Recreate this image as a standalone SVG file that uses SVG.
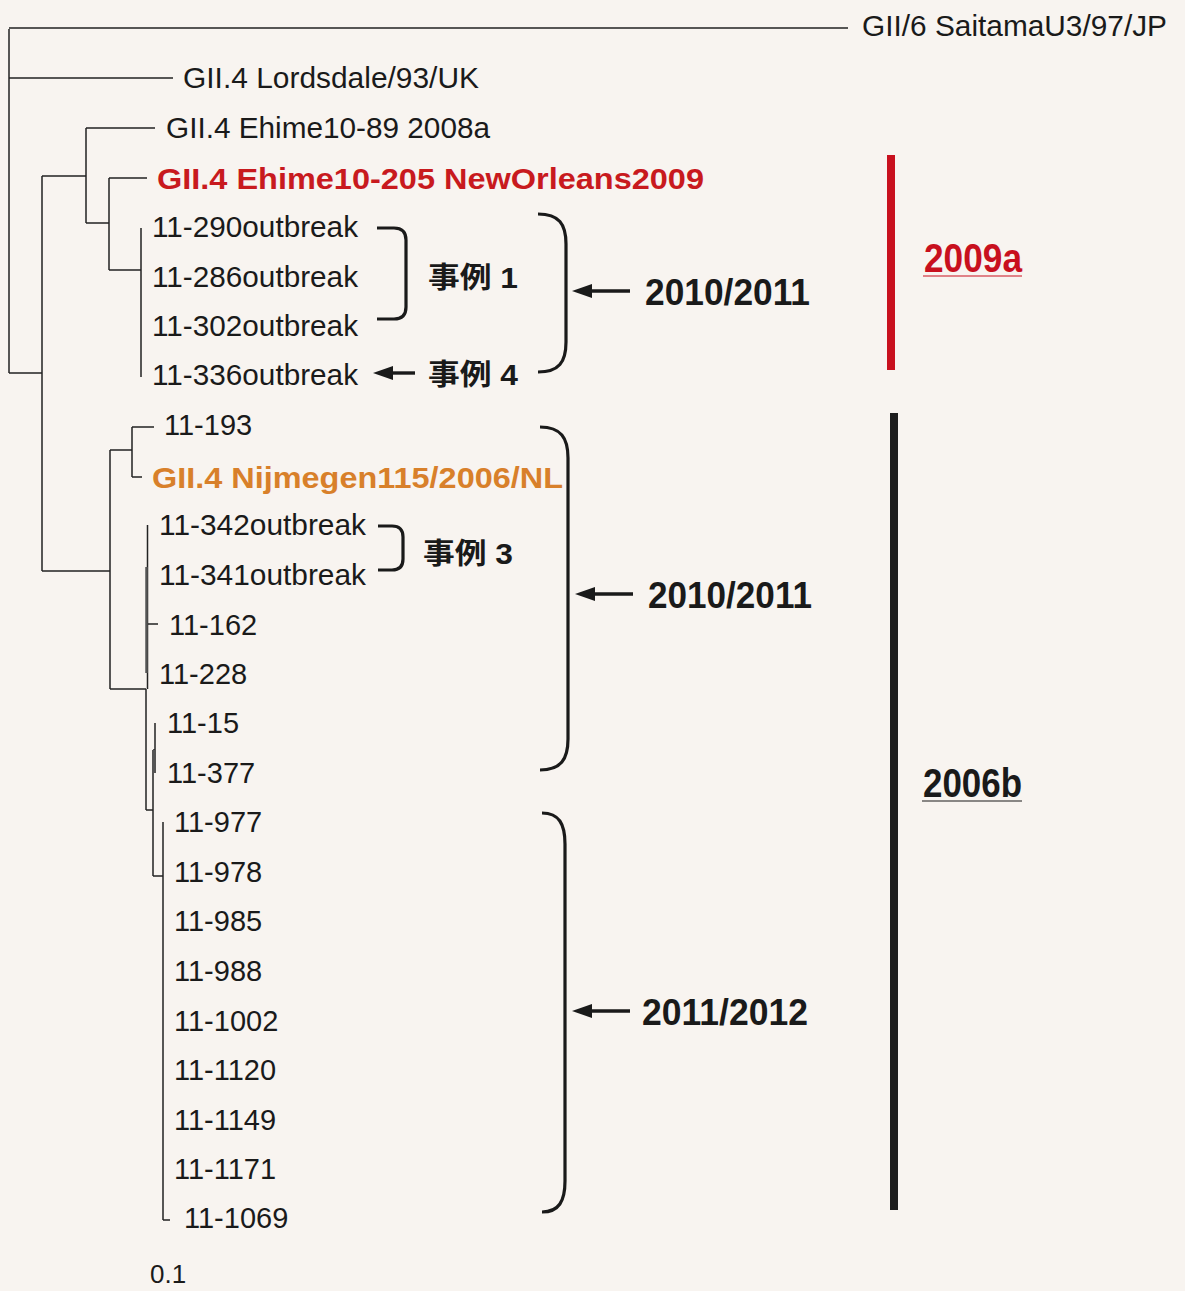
<svg xmlns="http://www.w3.org/2000/svg" width="1185" height="1291" viewBox="0 0 1185 1291">
<defs>
<style>
.t{font-family:"Liberation Sans",Arial,sans-serif;font-size:29px;fill:#1a1a1a}
.b{font-family:"Liberation Sans",Arial,sans-serif;font-size:30px;font-weight:bold}
.j{font-family:"Liberation Sans","Noto Sans CJK JP",sans-serif;font-size:29px;font-weight:bold;fill:#1a1a1a}
.y{font-family:"Liberation Sans",Arial,sans-serif;font-size:36px;font-weight:bold;fill:#1a1a1a}
.g{font-family:"Liberation Sans",Arial,sans-serif;font-size:40px;font-weight:bold}
.tree{fill:none;stroke:#222;stroke-width:1.5}
.br{fill:none;stroke:#1a1a1a;stroke-width:3.2}
.ar{fill:none;stroke:#1a1a1a;stroke-width:3.4}
</style>
<marker id="ah" viewBox="0 0 20 14" refX="1" refY="7" markerWidth="20" markerHeight="14" orient="auto" markerUnits="userSpaceOnUse">
<path d="M0,0 L20,7 L0,14 z" fill="#1a1a1a"/>
</marker>
</defs>
<rect x="0" y="0" width="1185" height="1291" fill="#f8f4f0"/>

<g id="connectors">
<path class="tree" d="M9,29 V373 M9,28 H848 M9,78 H173 M9,373 H42
M42,176 V571 M42,176 H86 M42,571 H110
M86,128 V223 M86,128 H155 M86,223 H109
M109,178 V270 M109,178 H147 M109,270 H141
M141,228 V377
M110,450 V689 M110,450 H132 M110,689 H146
M132,427 V477 M132,427 H154 M132,477 H142
M147.5,525 V689 M146,689 V810 M147.5,624 H158
M146,810 H153 M153,750 V876 M153,876 H163 M153,750 H155
M155,723 V773
M163,822 V1220 M163,1220 H170"/>
<path d="M146.5,567 V673 M154,750 V772" stroke="#555" stroke-width="2.5" fill="none"/>

<path class="br" d="M377,228 H394 Q406,228 406,240 V307 Q406,319 394,319 H377"/>
<path class="br" d="M538,214 C559,214 566,224 566,244 V342 C566,362 559,372 538,372"/>
<path class="br" d="M378,526 H392 Q403,526 403,537 V559 Q403,570 392,570 H378"/>
<path class="br" d="M540,427 C561,427 568,438 568,458 V739 C568,759 561,770 540,770"/>
<path class="br" d="M542,813 C559,813 565,824 565,844 V1181 C565,1201 559,1212 542,1212"/>

<line class="ar" x1="630" y1="291" x2="591" y2="291" marker-end="url(#ah)"/>
<line class="ar" x1="415" y1="373" x2="392" y2="373" marker-end="url(#ah)"/>
<line class="ar" x1="633" y1="594" x2="594" y2="594" marker-end="url(#ah)"/>
<line class="ar" x1="630" y1="1011" x2="591" y2="1011" marker-end="url(#ah)"/>

<rect x="887" y="155" width="8" height="215" fill="#c8101e"/>
<rect x="890" y="413" width="8" height="797" fill="#1e1e1e"/>
</g>

<g id="n-saitama"><text class="t" x="862" y="36" textLength="305" lengthAdjust="spacingAndGlyphs">GII/6 SaitamaU3/97/JP</text></g>
<g id="n-lordsdale"><text class="t" x="183" y="88" textLength="296" lengthAdjust="spacingAndGlyphs">GII.4 Lordsdale/93/UK</text></g>
<g id="n-ehime89"><text class="t" x="166" y="138" textLength="324" lengthAdjust="spacingAndGlyphs">GII.4 Ehime10-89 2008a</text></g>
<g id="n-ehime205"><text class="b" x="157" y="189" fill="#c81a1e" textLength="547" lengthAdjust="spacingAndGlyphs">GII.4 Ehime10-205 NewOrleans2009</text></g>
<g id="n-290"><text class="t" x="152" y="237" textLength="206" lengthAdjust="spacingAndGlyphs">11-290outbreak</text></g>
<g id="n-286"><text class="t" x="152" y="287" textLength="206" lengthAdjust="spacingAndGlyphs">11-286outbreak</text></g>
<g id="n-302"><text class="t" x="152" y="336" textLength="206" lengthAdjust="spacingAndGlyphs">11-302outbreak</text></g>
<g id="n-336"><text class="t" x="152" y="385" textLength="206" lengthAdjust="spacingAndGlyphs">11-336outbreak</text></g>
<g id="n-193"><text class="t" x="164" y="435">11-193</text></g>
<g id="n-nijmegen"><text class="b" x="152" y="488" fill="#d8802a" textLength="411" lengthAdjust="spacingAndGlyphs">GII.4 Nijmegen115/2006/NL</text></g>
<g id="n-342"><text class="t" x="159" y="535" textLength="207" lengthAdjust="spacingAndGlyphs">11-342outbreak</text></g>
<g id="n-341"><text class="t" x="159" y="585" textLength="207" lengthAdjust="spacingAndGlyphs">11-341outbreak</text></g>
<g id="n-162"><text class="t" x="169" y="635">11-162</text></g>
<g id="n-228"><text class="t" x="159" y="684">11-228</text></g>
<g id="n-15"><text class="t" x="167" y="733">11-15</text></g>
<g id="n-377"><text class="t" x="167" y="783">11-377</text></g>
<g id="n-977"><text class="t" x="174" y="832">11-977</text></g>
<g id="n-978"><text class="t" x="174" y="882">11-978</text></g>
<g id="n-985"><text class="t" x="174" y="931">11-985</text></g>
<g id="n-988"><text class="t" x="174" y="981">11-988</text></g>
<g id="n-1002"><text class="t" x="174" y="1031">11-1002</text></g>
<g id="n-1120"><text class="t" x="174" y="1080">11-1120</text></g>
<g id="n-1149"><text class="t" x="174" y="1130">11-1149</text></g>
<g id="n-1171"><text class="t" x="174" y="1179">11-1171</text></g>
<g id="n-1069"><text class="t" x="184" y="1228">11-1069</text></g>
<g id="scale"><text class="t" x="150" y="1283" style="font-size:26px">0.1</text></g>

<g id="case1"><text class="j" x="428" y="288" textLength="90" lengthAdjust="spacingAndGlyphs">事例 1</text></g>
<g id="case4"><text class="j" x="428" y="385" textLength="90" lengthAdjust="spacingAndGlyphs">事例 4</text></g>
<g id="case3"><text class="j" x="423" y="564" textLength="90" lengthAdjust="spacingAndGlyphs">事例 3</text></g>
<g id="season1"><text class="y" x="645" y="305" textLength="165" lengthAdjust="spacingAndGlyphs">2010/2011</text></g>
<g id="season2"><text class="y" x="648" y="608" textLength="164" lengthAdjust="spacingAndGlyphs">2010/2011</text></g>
<g id="season3"><text class="y" x="642" y="1025" textLength="166" lengthAdjust="spacingAndGlyphs">2011/2012</text></g>
<g id="g2009a"><text class="g" x="924" y="272" fill="#c8101e" textLength="98" lengthAdjust="spacingAndGlyphs">2009a</text><line x1="923" y1="276" x2="1022" y2="276" stroke="#c8101e" stroke-width="1.2"/></g>
<g id="g2006b"><text class="g" x="923" y="797" fill="#1a1a1a" textLength="99" lengthAdjust="spacingAndGlyphs">2006b</text><line x1="922" y1="801" x2="1022" y2="801" stroke="#1a1a1a" stroke-width="1.2"/></g>
</svg>
